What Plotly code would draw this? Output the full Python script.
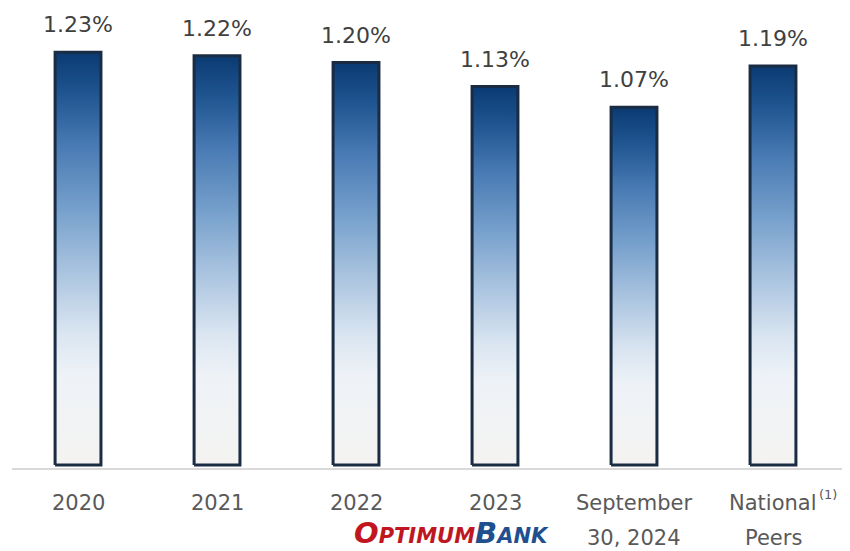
import plotly.graph_objects as go

# data
periods = ["2020", "2021", "2022", "2023", "September 30, 2024", "National Peers"]
label_line1 = ["2020", "2021", "2022", "2023", "September", "National"]
label_line2 = ["", "", "", "", "30, 2024", "Peers"]
ratios = [1.23, 1.22, 1.20, 1.13, 1.07, 1.19]
value_text = ["1.23%", "1.22%", "1.20%", "1.13%", "1.07%", "1.19%"]

base = 0.03
half_w = 0.165

grad = [[0, "#f4f3f1"], [0.22, "#eef2f7"], [0.32, "#dae5f1"], [0.48, "#a6c1de"],
        [0.62, "#76a0cc"], [0.77, "#4a7bb4"], [0.9, "#1f5590"], [1, "#0b3a72"]]

fig = go.Figure()

for i, v in enumerate(ratios):
    fig.add_trace(go.Scatter(
        x=[i - half_w, i + half_w, i + half_w, i - half_w, i - half_w],
        y=[base, base, v, v, base],
        mode="lines", fill="toself",
        fillgradient=dict(type="vertical", colorscale=grad),
        line=dict(color="#1a2c44", width=3),
        hoverinfo="skip", showlegend=False,
    ))
    fig.add_annotation(x=i, y=v, text=value_text[i], showarrow=False,
                       yanchor="bottom", yshift=13,
                       font=dict(family="DejaVu Sans", size=22, color="#404040"))
    fig.add_annotation(x=i, y=0, yref="paper", text=label_line1[i], showarrow=False,
                       yanchor="middle", yshift=-35,
                       font=dict(family="DejaVu Sans", size=21, color="#595959"))
    if label_line2[i]:
        fig.add_annotation(x=i, y=0, yref="paper", text=label_line2[i], showarrow=False,
                           yanchor="middle", yshift=-70,
                           font=dict(family="DejaVu Sans", size=21, color="#595959"))

# footnote marker
fig.add_annotation(x=5, y=0, yref="paper", text="(1)", showarrow=False,
                   xanchor="left", yanchor="middle", xshift=44, yshift=-26,
                   font=dict(family="DejaVu Sans", size=13, color="#595959"))

# logo
logo = ("<b><i><span style='color:#c0161f;font-size:29px'>O</span>"
        "<span style='color:#c0161f'>PTIMUM</span>"
        "<span style='color:#1f4f8f;font-size:29px'>B</span>"
        "<span style='color:#1f4f8f'>ANK</span></i></b>")
fig.add_annotation(x=0.525, y=0, xref="paper", yref="paper", text=logo, showarrow=False,
                   xanchor="center", yanchor="middle", yshift=-65,
                   font=dict(family="DejaVu Sans", size=21))

fig.update_layout(
    width=842, height=543,
    margin=dict(l=4, r=0, t=0, b=83),
    plot_bgcolor="white", paper_bgcolor="white",
    xaxis=dict(range=[-0.475, 5.554], showgrid=False, zeroline=False,
               showticklabels=False, showline=True, linecolor="#d9d9d9", linewidth=2),
    yaxis=dict(range=[0.0213, 1.3585], visible=False),
)

fig.write_html("out.html")
